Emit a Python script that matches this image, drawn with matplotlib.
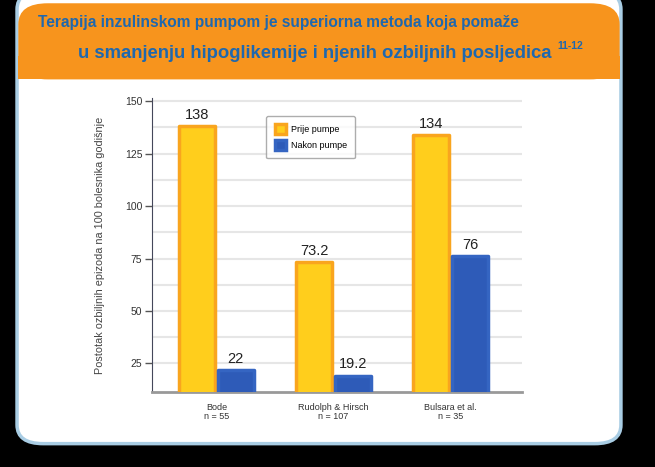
import numpy as np
import matplotlib.pyplot as plt
from matplotlib.patches import FancyBboxPatch

plt.rcParams['font.family'] = ['Liberation Sans', 'DejaVu Sans']

studies = ['Bode\nn = 55', 'Rudolph & Hirsch\nn = 107', 'Bulsara et al.\nn = 35']
before = [138, 73.2, 134]
after = [22, 19.2, 76]
before_lbl = ['138', '73.2', '134']
after_lbl = ['22', '19.2', '76']
yticks = [25, 50, 75, 100, 125, 150]

fig = plt.figure(figsize=(6.55, 4.67), dpi=100)
fig.patch.set_facecolor('black')

# white panel + orange header
panel = FancyBboxPatch((0.026, 0.05), 0.922, 0.97, boxstyle='round,pad=0,rounding_size=0.04',
                       transform=fig.transFigure, fc='white', ec='#a9cde4', lw=2.5, zorder=-5)
fig.patches.append(panel)
head = FancyBboxPatch((0.028, 0.83), 0.918, 0.163, boxstyle='round,pad=0,rounding_size=0.045',
                      transform=fig.transFigure, fc='#F7941D', ec='none', zorder=-4)
fig.patches.append(head)
fig.patches.append(plt.Rectangle((0.028, 0.83), 0.918, 0.05, transform=fig.transFigure,
                                 fc='#F7941D', ec='none', zorder=-4))

blue_txt = '#1F68AE'
fig.text(0.058, 0.951, 'Terapija inzulinskom pumpom je superiorna metoda koja pomaže',
         color=blue_txt, fontsize=11.2, fontweight='bold', va='center', ha='left')
fig.text(0.119, 0.886, 'u smanjenju hipoglikemije i njenih ozbiljnih posljedica',
         color=blue_txt, fontsize=13.3, fontweight='bold', va='center', ha='left')
fig.text(0.851, 0.902, '11-12', color=blue_txt, fontsize=7.5, fontweight='bold',
         va='center', ha='left')

ax = fig.add_axes([0.232, 0.161, 0.565, 0.629])
ax.set_zorder(2)
ax.patch.set_alpha(0)
x = np.arange(len(studies))
w = 0.31
b1 = ax.bar(x - w / 2 - 0.01, before, w, color='#FFCE1C', edgecolor='#F9A51E', lw=2.5,
            joinstyle='round', label='Prije pumpe', zorder=3)
b2 = ax.bar(x + w / 2 + 0.01, after, w, color='#2E5BB8', edgecolor='#3565C2', lw=2.5,
            joinstyle='round', label='Nakon pumpe', zorder=3)

for r, t in zip(b1, before_lbl):
    ax.text(r.get_x() + r.get_width() / 2, r.get_height() + 2, t, ha='center', va='bottom',
            fontsize=10.5, color='#222222')
for r, t in zip(b2, after_lbl):
    ax.text(r.get_x() + r.get_width() / 2, r.get_height() + 2, t, ha='center', va='bottom',
            fontsize=10.5, color='#222222')

ax.set_xlim(-0.55, 2.61)
ax.set_ylim(11.5, 151.5)
ax.set_yticks(yticks)
ax.set_yticklabels([str(v) for v in yticks], fontsize=7.5, color='#333333')
for g in np.arange(25, 151, 12.5):
    ax.axhline(g, color='#e6e6e6', lw=1.5, zorder=1)
ax.set_xticks(x)
ax.set_xticklabels(studies, fontsize=6.5, color='#333333', linespacing=1.0)
ax.tick_params(axis='x', length=0, pad=8)
ax.tick_params(axis='y', length=5, width=1, color='#555555', pad=2)
for s in ['top', 'right']:
    ax.spines[s].set_visible(False)
ax.spines['left'].set_color('#44475a')
ax.spines['bottom'].set_color('#999999')
ax.spines['bottom'].set_linewidth(2)
ax.set_ylabel('Postotak ozbiljnih epizoda na 100 bolesnika godišnje', fontsize=7.8,
              color='#444444', labelpad=14)

ax.legend(loc='upper left', bbox_to_anchor=(0.297, 0.955), fontsize=6.5, frameon=True,
          edgecolor='#999999', handlelength=1.3, handleheight=1.4, borderpad=0.9,
          labelspacing=0.6, handletextpad=0.5, fancybox=True)

fig.savefig('out.png', dpi=100, facecolor=fig.get_facecolor())
